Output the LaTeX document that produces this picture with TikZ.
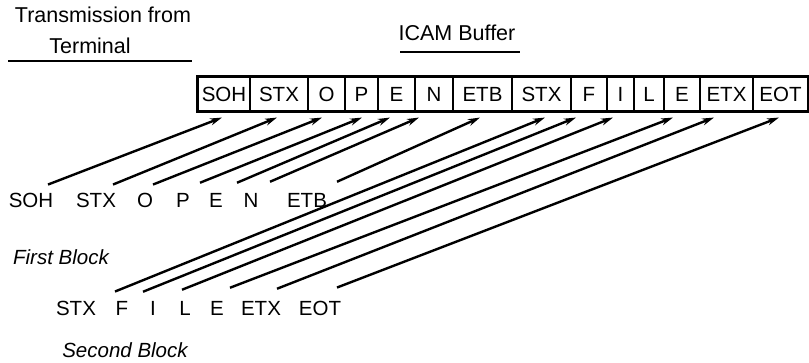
\documentclass[tikz,border=0pt]{standalone}
\usepackage{fontspec}
\setmainfont{Liberation Sans}
\usetikzlibrary{arrows.meta}
\begin{document}
\begin{tikzpicture}[x=1pt,y=-1pt,
  lab/.style={inner sep=0pt,font=\fontsize{20.5}{24}\selectfont},
  head/.style={inner sep=0pt,font=\fontsize{21.5}{25}\selectfont},
  ital/.style={inner sep=0pt,font=\fontsize{20.5}{24}\selectfont\itshape},
  cell/.style={draw,line width=1.1pt,inner sep=0pt,minimum height=34pt,font=\fontsize{20.5}{24}\selectfont},
  arr/.style={line width=2.4pt,-{Stealth[length=12pt,width=7pt]}},
  uline/.style={line width=1.3pt}]
\useasboundingbox (0,0) rectangle (809,362);
% headings
\node[head] (h1) at (103,15) {Transmission from};
\node[head] (h2) at (90,46) {Terminal};
\draw[uline] (8,61) -- (192,61);
\node[head] (h3) at (457,33) {ICAM Buffer};
\draw[uline] (400,52) -- (520,52);
% buffer cells
\node[cell,minimum width=52pt] (c1) at (224,94) {SOH};
\node[cell,minimum width=58pt] (c2) at (279,94) {STX};
\node[cell,minimum width=37pt] (c3) at (326.5,94) {O};
\node[cell,minimum width=33pt] (c4) at (361.5,94) {P};
\node[cell,minimum width=37pt] (c5) at (396.5,94) {E};
\node[cell,minimum width=38pt] (c6) at (434,94) {N};
\node[cell,minimum width=59pt] (c7) at (482.5,94) {ETB};
\node[cell,minimum width=59pt] (c8) at (541.5,94) {STX};
\node[cell,minimum width=36pt] (c9) at (589,94) {F};
\node[cell,minimum width=27pt] (c10) at (620.5,94) {I};
\node[cell,minimum width=30pt] (c11) at (649,94) {L};
\node[cell,minimum width=36pt] (c12) at (682,94) {E};
\node[cell,minimum width=53pt] (c13) at (726.5,94) {ETX};
\node[cell,minimum width=55pt] (c14) at (780.5,94) {EOT};
\draw[line width=2.4pt] (c1.north west) rectangle (c14.south east);
% first block
\node[lab] (a1) at (31,200) {SOH};
\node[lab] (a2) at (96,200) {STX};
\node[lab] (a3) at (145,200) {O};
\node[lab] (a4) at (183,200) {P};
\node[lab] (a5) at (216,200) {E};
\node[lab] (a6) at (251,200) {N};
\node[lab] (a7) at (307,200) {ETB};
\node[ital] (fb) at (61,257) {First Block};
% second block
\node[lab] (b1) at (76,308) {STX};
\node[lab] (b2) at (122,308) {F};
\node[lab] (b3) at (153,308) {I};
\node[lab] (b4) at (185,308) {L};
\node[lab] (b5) at (217,308) {E};
\node[lab] (b6) at (261,308) {ETX};
\node[lab] (b7) at (320,308) {EOT};
\node[ital] (sb) at (125,350) {Second Block};
% arrows first block
\draw[arr] ([shift={(17,-8)}]a1.north) -- ([shift={(-2,6)}]c1.south);
\draw[arr] ([shift={(17,-8)}]a2.north) -- ([shift={(-2,6)}]c2.south);
\draw[arr] ([shift={(8,-8)}]a3.north) -- ([shift={(-4.5,6)}]c3.south);
\draw[arr] ([shift={(17,-10)}]a4.north) -- ([shift={(0.5,6)}]c4.south);
\draw[arr] ([shift={(21,-10)}]a5.north) -- ([shift={(-6.5,6)}]c5.south);
\draw[arr] ([shift={(19,-11)}]a6.north) -- ([shift={(-15,6)}]c6.south);
\draw[arr] ([shift={(30,-11)}]a7.north) -- ([shift={(-2.5,6)}]c7.south);
% arrows second block
\draw[arr] ([shift={(39,-9)}]b1.north) -- ([shift={(3.5,6)}]c8.south);
\draw[arr] ([shift={(21,-9)}]b2.north) -- ([shift={(-13,6)}]c9.south);
\draw[arr] ([shift={(29,-11)}]b3.north) -- ([shift={(-7.5,6)}]c10.south);
\draw[arr] ([shift={(13,-13)}]b5.north) -- ([shift={(-9,6)}]c12.south);
\draw[arr] ([shift={(16,-12)}]b6.north) -- ([shift={(-12.5,6)}]c13.south);
\draw[arr] ([shift={(17,-13)}]b7.north) -- ([shift={(-1.5,6)}]c14.south);
\end{tikzpicture}
\end{document}
